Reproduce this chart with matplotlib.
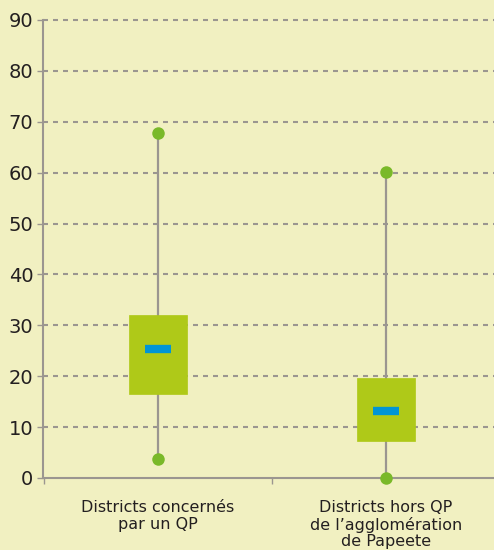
import matplotlib
matplotlib.use("Agg")
import matplotlib.pyplot as plt

categories = ["Districts concernés\npar un QP", "Districts hors QP\nde l’agglomération\nde Papeete"]
q1 = [16.5, 7.3]
q3 = [32.0, 19.7]
medians = [25.3, 13.2]
whislo = [3.7, 0.0]
whishi = [67.8, 60.1]
yticks = [0, 10, 20, 30, 40, 50, 60, 70, 80, 90]

BG = "#F1F0C1"
GREEN = "#AFC918"
BLUE = "#0095D5"
DOT = "#7AB929"
GREY = "#9B9690"

plt.rcParams['font.family'] = ['DejaVu Sans']

fig = plt.figure(figsize=(4.94, 5.5), dpi=100, facecolor=BG)
ax = fig.add_axes([0.087, 0.131, 0.913, 0.8327])
ax.set_facecolor(BG)

pos = list(range(len(categories)))
stats = []
for i in pos:
    stats.append(dict(med=medians[i], q1=q1[i], q3=q3[i], whislo=whislo[i], whishi=whishi[i], fliers=[]))

ax.bxp(stats, positions=pos, widths=0.254, patch_artist=True, showcaps=False, showfliers=False,
       boxprops=dict(facecolor=GREEN, edgecolor=GREEN, linewidth=0.5, zorder=3),
       whiskerprops=dict(color=GREY, linewidth=1.6, zorder=2),
       medianprops=dict(linewidth=0))
for i in pos:
    ax.plot([i - 0.057, i + 0.057], [medians[i], medians[i]], color=BLUE, lw=6, solid_capstyle='butt', zorder=4)
    ax.plot([i, i], [whislo[i], whishi[i]], 'o', color=DOT, markersize=9, markeredgewidth=0, zorder=5, clip_on=False)

ax.set_xlim(-0.504, 1.474)
ax.set_ylim(0, 90)
ax.set_yticks(yticks)
ax.set_yticklabels([str(v) for v in yticks], fontsize=14, color="#231F20")
ax.set_xticks(pos)
ax.set_xticklabels(categories, fontsize=11.5, color="#231F20", linespacing=1.12)
ax.set_xticks([-0.5, 0.5], minor=True)
ax.tick_params(axis='x', which='major', length=0, pad=16)
ax.tick_params(axis='x', which='minor', length=4, color=GREY, width=1)
ax.tick_params(axis='y', length=4, color=GREY, width=1, pad=3)

for v in yticks[1:]:
    ax.axhline(v, color=GREY, lw=1.5, ls=(0, (2.4, 2.4)), zorder=1, clip_on=False)

for s in ['top', 'right']:
    ax.spines[s].set_visible(False)
for s in ['left', 'bottom']:
    ax.spines[s].set_color(GREY)
    ax.spines[s].set_linewidth(1.5)

fig.savefig("out.png", dpi=100, facecolor=BG)
